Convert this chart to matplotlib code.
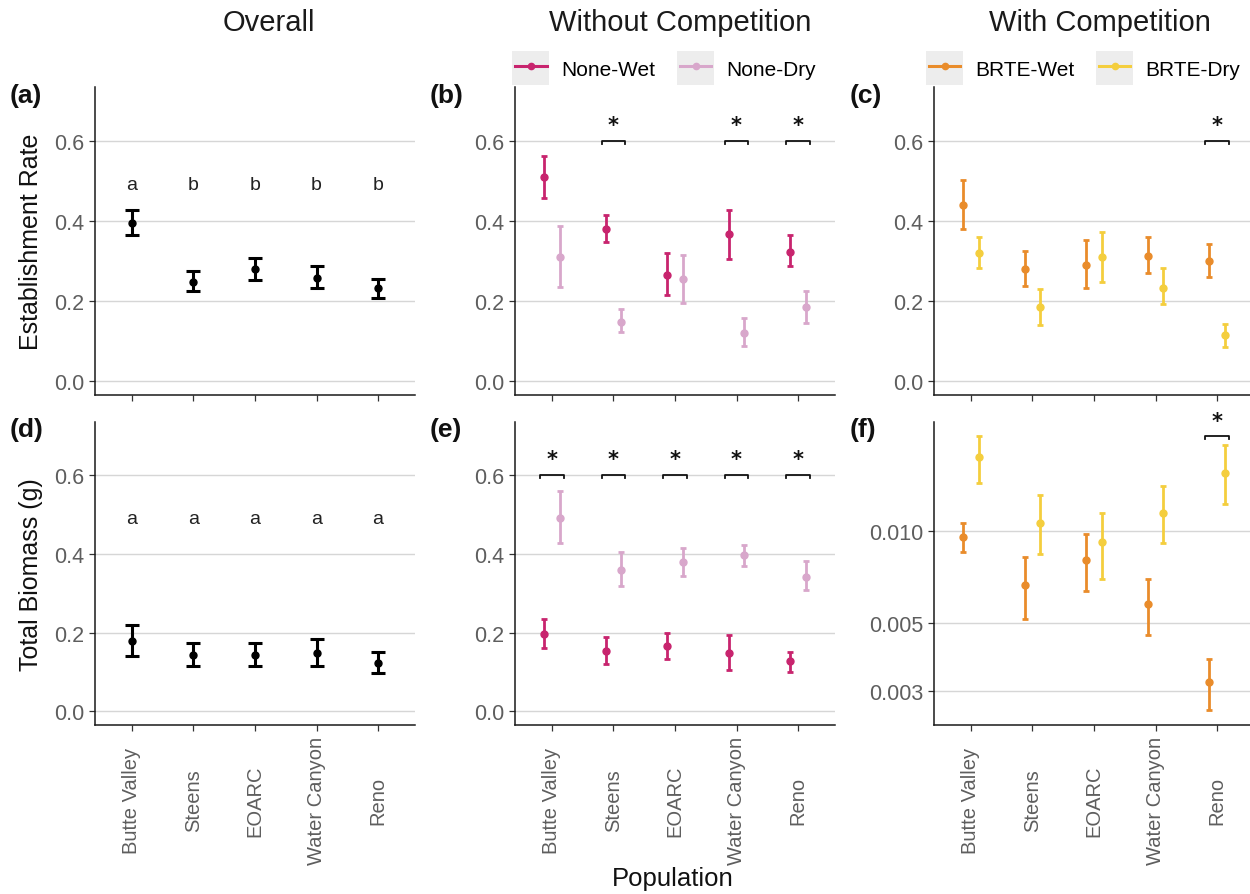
import matplotlib
matplotlib.use("Agg")
import matplotlib.pyplot as plt
import numpy as np
from matplotlib.lines import Line2D
from matplotlib.patches import Rectangle
from matplotlib.legend_handler import HandlerLine2D
from matplotlib.ticker import FixedLocator, NullLocator

plt.rcParams['font.family'] = ['Liberation Sans', 'DejaVu Sans']

# ---- data -------------------------------------------------------------
sites = ["Butte Valley", "Steens", "EOARC", "Water Canyon", "Reno"]

# Overall establishment rate (mean, lower, upper) and group letters
est_all_mean = [0.396, 0.248, 0.281, 0.258, 0.232]
est_all_lo = [0.365, 0.226, 0.252, 0.232, 0.208]
est_all_hi = [0.427, 0.274, 0.308, 0.288, 0.256]
est_letters = ["a", "b", "b", "b", "b"]

# Establishment without competition
est_nw_mean = [0.511, 0.379, 0.264, 0.367, 0.323]
est_nw_lo = [0.458, 0.348, 0.215, 0.304, 0.288]
est_nw_hi = [0.563, 0.414, 0.319, 0.428, 0.364]
est_nd_mean = [0.310, 0.148, 0.254, 0.119, 0.185]
est_nd_lo = [0.236, 0.123, 0.196, 0.088, 0.146]
est_nd_hi = [0.388, 0.181, 0.315, 0.157, 0.225]
est_none_sig = [False, True, False, True, True]

# Establishment with competition
est_bw_mean = [0.439, 0.280, 0.290, 0.313, 0.300]
est_bw_lo = [0.381, 0.238, 0.232, 0.271, 0.261]
est_bw_hi = [0.503, 0.326, 0.352, 0.361, 0.342]
est_bd_mean = [0.320, 0.185, 0.310, 0.233, 0.116]
est_bd_lo = [0.282, 0.139, 0.248, 0.192, 0.086]
est_bd_hi = [0.361, 0.229, 0.373, 0.282, 0.143]
est_brte_sig = [False, False, False, False, True]

# Overall total biomass
bio_all_mean = [0.178, 0.142, 0.142, 0.149, 0.123]
bio_all_lo = [0.140, 0.115, 0.115, 0.116, 0.098]
bio_all_hi = [0.218, 0.173, 0.173, 0.184, 0.150]
bio_letters = ["a", "a", "a", "a", "a"]

# Biomass without competition
bio_nw_mean = [0.195, 0.152, 0.166, 0.149, 0.127]
bio_nw_lo = [0.160, 0.119, 0.133, 0.104, 0.099]
bio_nw_hi = [0.235, 0.188, 0.199, 0.193, 0.150]
bio_nd_mean = [0.492, 0.358, 0.379, 0.396, 0.341]
bio_nd_lo = [0.427, 0.317, 0.343, 0.369, 0.307]
bio_nd_hi = [0.559, 0.405, 0.415, 0.422, 0.382]
bio_none_sig = [True, True, True, True, True]

# Biomass with competition (log scale)
bio_bw_mean = [0.00956, 0.00668, 0.00802, 0.00578, 0.00321]
bio_bw_lo = [0.00854, 0.00517, 0.00635, 0.00456, 0.00260]
bio_bw_hi = [0.01065, 0.00822, 0.00978, 0.00698, 0.00380]
bio_bd_mean = [0.01742, 0.01060, 0.00920, 0.01145, 0.01552]
bio_bd_lo = [0.01439, 0.00839, 0.00698, 0.00913, 0.01223]
bio_bd_hi = [0.02046, 0.01308, 0.01145, 0.01403, 0.01907]
bio_brte_sig = [False, False, False, False, True]

# ---- style ------------------------------------------------------------
C_NW = "#C8246E"
C_ND = "#D8A7CB"
C_BW = "#E98C2B"
C_BD = "#F4CE3E"
GRID = "#D6D6D6"
TICK_TXT = "#5E5E5E"
DODGE = 0.125

W, H = 1250, 895
fig = plt.figure(figsize=(W / 100, H / 100), dpi=100)


def add_ax(l, t, r, b):
    return fig.add_axes([l / W, 1 - b / H, (r - l) / W, (b - t) / H])


cols = [(95, 415), (515, 835), (934, 1254)]
rows = [(88, 396), (423, 726)]
axes = [[add_ax(c[0], r[0], c[1], r[1]) for c in cols] for r in rows]

xpos = np.arange(1, len(sites) + 1)


def style(ax, show_labels, log=False):
    ax.set_xlim(0.4, len(sites) + 0.6)
    if not log:
        ax.set_ylim(-0.035, 0.735)
        ax.set_yticks([0.0, 0.2, 0.4, 0.6])
        ax.set_yticklabels(["0.0", "0.2", "0.4", "0.6"])
    for s in ["top", "right"]:
        ax.spines[s].set_visible(False)
    for s in ["left", "bottom"]:
        ax.spines[s].set_color("#1a1a1a")
        ax.spines[s].set_linewidth(1.1)
    ax.yaxis.grid(True, color=GRID, linewidth=1.0)
    ax.xaxis.grid(False)
    ax.set_axisbelow(True)
    ax.set_xticks(xpos)
    ax.tick_params(axis="both", length=4, width=0.9, color="#333333",
                   labelsize=15.5, labelcolor=TICK_TXT)
    if show_labels:
        ax.set_xticklabels(sites, rotation=90, va="center", ha="center",
                           fontsize=14.5)
        ax.tick_params(axis="x", pad=50)
    else:
        ax.set_xticklabels([])


def draw_err(ax, x, mean, lo, hi, color, lw, cap, ms):
    mean = np.asarray(mean)
    yerr = [mean - np.asarray(lo), np.asarray(hi) - mean]
    ax.errorbar(x, mean, yerr=yerr, fmt="o", color=color, ecolor=color,
                elinewidth=lw, capthick=lw, capsize=cap, ms=ms, zorder=3)


def draw_sig(ax, flags, ybar, ystar, drop, log=False):
    for x, f in zip(xpos, flags):
        if not f:
            continue
        y2 = ybar * (1 - drop) if log else ybar - drop
        ax.plot([x - 0.19, x - 0.19, x + 0.19, x + 0.19],
                [y2, ybar, ybar, y2], color="#111111", lw=1.3,
                clip_on=False, zorder=4)
        ax.text(x, ystar, "*", ha="center", va="center", fontsize=15,
                fontweight="bold", color="#111111", clip_on=False,
                family="DejaVu Sans")


# (a) overall establishment
ax = axes[0][0]
style(ax, False)
draw_err(ax, xpos, est_all_mean, est_all_lo, est_all_hi, "black", 2.2, 5, 5)
for x, t in zip(xpos, est_letters):
    ax.text(x, 0.49, t, ha="center", va="center", fontsize=14, color="#222222")
ax.set_ylabel("Establishment Rate", fontsize=18, color="#111111", labelpad=8)

# (b) establishment without competition
ax = axes[0][1]
style(ax, False)
draw_err(ax, xpos - DODGE, est_nw_mean, est_nw_lo, est_nw_hi, C_NW, 2.0, 2.5, 5)
draw_err(ax, xpos + DODGE, est_nd_mean, est_nd_lo, est_nd_hi, C_ND, 2.0, 2.5, 5)
draw_sig(ax, est_none_sig, 0.6, 0.64, 0.008)

# (c) establishment with competition
ax = axes[0][2]
style(ax, False)
draw_err(ax, xpos - DODGE, est_bw_mean, est_bw_lo, est_bw_hi, C_BW, 2.0, 2.5, 5)
draw_err(ax, xpos + DODGE, est_bd_mean, est_bd_lo, est_bd_hi, C_BD, 2.0, 2.5, 5)
draw_sig(ax, est_brte_sig, 0.6, 0.64, 0.008)

# (d) overall biomass
ax = axes[1][0]
style(ax, True)
draw_err(ax, xpos, bio_all_mean, bio_all_lo, bio_all_hi, "black", 2.2, 5, 5)
for x, t in zip(xpos, bio_letters):
    ax.text(x, 0.49, t, ha="center", va="center", fontsize=14, color="#222222")
ax.set_ylabel("Total Biomass (g)", fontsize=18, color="#111111", labelpad=8)

# (e) biomass without competition
ax = axes[1][1]
style(ax, True)
draw_err(ax, xpos - DODGE, bio_nw_mean, bio_nw_lo, bio_nw_hi, C_NW, 2.0, 2.5, 5)
draw_err(ax, xpos + DODGE, bio_nd_mean, bio_nd_lo, bio_nd_hi, C_ND, 2.0, 2.5, 5)
draw_sig(ax, bio_none_sig, 0.6, 0.64, 0.008)

# (f) biomass with competition, log scale
ax = axes[1][2]
ax.set_yscale("log")
style(ax, True, log=True)
ax.set_ylim(0.00232, 0.0227)
ax.yaxis.set_major_locator(FixedLocator([0.003, 0.005, 0.010]))
ax.yaxis.set_minor_locator(NullLocator())
ax.set_yticklabels(["0.003", "0.005", "0.010"])
draw_err(ax, xpos - DODGE, bio_bw_mean, bio_bw_lo, bio_bw_hi, C_BW, 2.0, 2.5, 5)
draw_err(ax, xpos + DODGE, bio_bd_mean, bio_bd_lo, bio_bd_hi, C_BD, 2.0, 2.5, 5)
draw_sig(ax, bio_brte_sig, 0.0205, 0.0229, 0.025, log=True)

# shared x-axis title
fig.text(673 / W, 1 - 879 / H, "Population", fontsize=18.5, ha="center",
         va="center", color="#111111")

# panel tags
tags = [["(a)", "(b)", "(c)"], ["(d)", "(e)", "(f)"]]
tag_x = [10, 430, 850]
tag_y = [96, 430]
for i in range(2):
    for j in range(3):
        fig.text(tag_x[j] / W, 1 - tag_y[i] / H, tags[i][j], fontsize=19,
                 fontweight="bold", ha="left", va="center", color="#111111")

# column titles
for cx, t in zip([269, 680, 1100], ["Overall", "Without Competition", "With Competition"]):
    fig.text(cx / W, 1 - 23 / H, t, fontsize=21, ha="center", va="center",
             color="#1a1a1a")


# legends with shaded key boxes
class KeyHandler(HandlerLine2D):
    def create_artists(self, legend, orig_handle, xdescent, ydescent,
                       width, height, fontsize, trans):
        rect = Rectangle((-xdescent - 2, -ydescent - 5), width + 4, height + 10,
                         facecolor="#EDEDED", edgecolor="none",
                         transform=trans)
        arts = super().create_artists(legend, orig_handle, xdescent, ydescent,
                                      width, height, fontsize, trans)
        return [rect] + list(arts)


def add_legend(ax, labels, colors):
    handles = [Line2D([], [], color=c, lw=2.2, marker="o", ms=4.5)
               for c in colors]
    ax.legend(handles, labels, loc="lower center", bbox_to_anchor=(0.47, 1.0),
              ncol=2, frameon=False, fontsize=15, handlelength=1.5,
              handleheight=1.1, handletextpad=0.7, columnspacing=1.2,
              borderaxespad=0.0,
              handler_map={Line2D: KeyHandler(numpoints=1)})


add_legend(axes[0][1], ["None-Wet", "None-Dry"], [C_NW, C_ND])
add_legend(axes[0][2], ["BRTE-Wet", "BRTE-Dry"], [C_BW, C_BD])

fig.savefig("out.png", dpi=100)
